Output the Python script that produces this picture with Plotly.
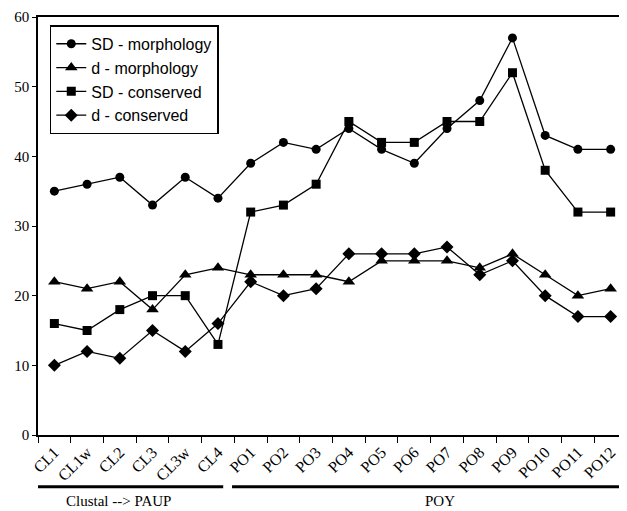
import plotly.graph_objects as go

categories = ["CL1", "CL1w", "CL2", "CL3", "CL3w", "CL4", "PO1", "PO2", "PO3", "PO4",
              "PO5", "PO6", "PO7", "PO8", "PO9", "PO10", "PO11", "PO12"]
sd_morph = [35, 36, 37, 33, 37, 34, 39, 42, 41, 44, 41, 39, 44, 48, 57, 43, 41, 41]
d_morph = [22, 21, 22, 18, 23, 24, 23, 23, 23, 22, 25, 25, 25, 24, 26, 23, 20, 21]
sd_cons = [16, 15, 18, 20, 20, 13, 32, 33, 36, 45, 42, 42, 45, 45, 52, 38, 32, 32]
d_cons = [10, 12, 11, 15, 12, 16, 22, 20, 21, 26, 26, 26, 27, 23, 25, 20, 17, 17]

series = [
    ("SD - morphology", sd_morph, "circle", 9),
    ("d - morphology", d_morph, "triangle-up", 11),
    ("SD - conserved", sd_cons, "square", 9),
    ("d - conserved", d_cons, "diamond", 10),
]

fig = go.Figure()
for name, vals, sym, sz in series:
    fig.add_trace(go.Scatter(
        x=categories, y=vals, name=name, mode="lines+markers",
        line=dict(color="black", width=1.3),
        marker=dict(symbol=sym, size=sz, color="black"),
    ))

serif = "Liberation Serif, Times New Roman, serif"
sans = "Liberation Sans, Arial, sans-serif"

fig.update_layout(
    width=619, height=503,
    margin=dict(l=30, r=0, t=9, b=76, autoexpand=False),
    paper_bgcolor="white", plot_bgcolor="white",
    showlegend=True,
    legend=dict(x=0.02, y=0.98, xanchor="left", yanchor="top",
                bordercolor="black", borderwidth=1.5,
                font=dict(family=sans, size=16, color="black"),
                tracegroupgap=0, itemwidth=30),
    xaxis=dict(type="category", showline=True, linecolor="black", linewidth=1.5,
               mirror=True, ticks="outside", tickson="boundaries", ticklen=6,
               tickcolor="black", tickangle=-45, showgrid=False, automargin=False,
               tickfont=dict(family=serif, size=16, color="black"),
               range=[-0.5, 17.5]),
    yaxis=dict(range=[0, 60], dtick=10, showline=True, linecolor="black", linewidth=1.5,
               ticks="outside", ticklen=4, tickcolor="black", showgrid=False,
               zeroline=False, automargin=False,
               tickfont=dict(family=serif, size=15, color="black")),
    shapes=[
        dict(type="line", xref="x", yref="paper", x0=-0.78, x1=5.16, y0=-0.124, y1=-0.124,
             line=dict(color="black", width=3)),
        dict(type="line", xref="x", yref="paper", x0=5.43, x1=17.5, y0=-0.124, y1=-0.124,
             line=dict(color="black", width=3)),
    ],
    annotations=[
        dict(text="Clustal --> PAUP", xref="x", yref="paper", x=1.95, y=-0.158,
             showarrow=False, yanchor="middle",
             font=dict(family=serif, size=15, color="black")),
        dict(text="POY", xref="x", yref="paper", x=11.8, y=-0.158,
             showarrow=False, yanchor="middle",
             font=dict(family=serif, size=15, color="black")),
    ],
)

fig.write_html("out.html")
